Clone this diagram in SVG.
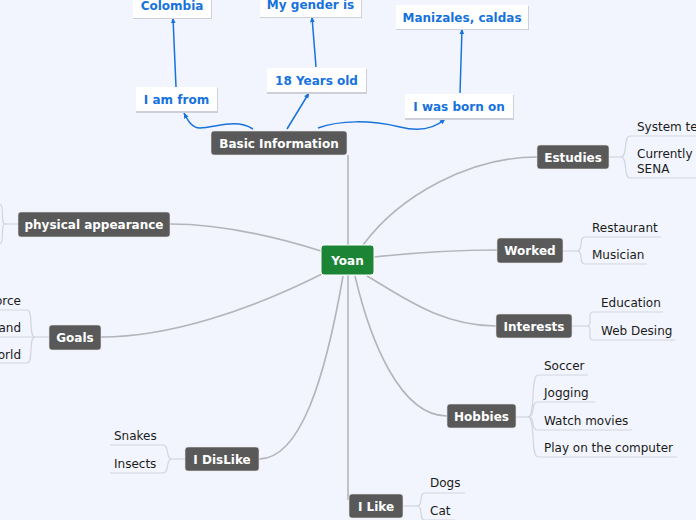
<svg xmlns="http://www.w3.org/2000/svg" width="696" height="520" viewBox="0 0 696 520">
<defs>
<style>
.bg{fill:#f2f5fd}
.main rect{fill:#595959;stroke:#e6e6e6;stroke-width:0.6}
.main text,.root text{font-family:"DejaVu Sans",Verdana,sans-serif;font-size:12px;font-weight:bold;fill:#ffffff;text-anchor:middle}
.root rect{fill:#1b8535;stroke:#ffffff;stroke-width:1}
.blue .sh{fill:#cdd0d8}
.blue .bx{fill:#ffffff}
.blue text{font-family:"DejaVu Sans",Verdana,sans-serif;font-size:12px;font-weight:bold;fill:#1672dc;text-anchor:middle}
.sub text{font-family:"DejaVu Sans",Verdana,sans-serif;font-size:12px;fill:#1a1a1a}
.sub path{fill:none;stroke:#d3d5df;stroke-width:1.2}
.conn path{fill:none;stroke:#b4b4ba;stroke-width:1.6}
.bconn path{fill:none;stroke:#1672dc;stroke-width:1.5;marker-end:url(#arr)}
</style>
<marker id="arr" viewBox="0 0 10 10" refX="9" refY="5" markerWidth="6" markerHeight="6" orient="auto" markerUnits="userSpaceOnUse">
<path d="M0,1 L10,5 L0,9 Z" fill="#1672dc"/>
</marker>
</defs>
<rect class="bg" x="0" y="0" width="696" height="520"/>

<g id="connectors">
<g class="conn">
<path d="M348,155 L348,245"/>
<path d="M348,275 L348,500"/>
<path d="M363,245 C400,195 470,157 537,157"/>
<path d="M374,257 C420,252 450,250 497,250"/>
<path d="M367,276 C400,295 440,326 496,326"/>
<path d="M355,276 C370,340 400,416 447,416"/>
<path d="M343,276 C325,380 300,459 259,459"/>
<path d="M322,274 C250,310 170,337 101,337"/>
<path d="M321,251 C270,235 220,224 170,224"/>
</g>
<g class="bconn">
<path d="M253,129 C235,118 215,128 200,128 C192,128 188,121 184,113"/>
<path d="M287,129 L309,93"/>
<path d="M318,128 C340,120 370,120 400,127 C420,132 435,128 445,119"/>
<path d="M176,87 L173,18"/>
<path d="M316,67 L312,17"/>
<path d="M460,93 L462,29"/>
</g>
</g>

<g id="n-yoan" class="root"><rect x="321" y="245" width="53" height="30" rx="3"/><text x="347.5" y="264.5">Yoan</text></g>

<g id="n-basic" class="main"><rect x="211" y="131" width="136" height="24" rx="3"/><text x="279" y="147.5">Basic Information</text></g>
<g id="n-estudies" class="main"><rect x="537" y="145" width="72" height="24" rx="3"/><text x="573" y="161.5">Estudies</text></g>
<g id="n-worked" class="main"><rect x="497" y="238" width="66" height="25" rx="3"/><text x="530" y="254.5">Worked</text></g>
<g id="n-interests" class="main"><rect x="496" y="314" width="76" height="24" rx="3"/><text x="534" y="330.5">Interests</text></g>
<g id="n-hobbies" class="main"><rect x="447" y="404" width="69" height="24" rx="3"/><text x="481.5" y="420.5">Hobbies</text></g>
<g id="n-ilike" class="main"><rect x="349" y="494" width="54" height="24" rx="3"/><text x="376" y="510.5">I Like</text></g>
<g id="n-idislike" class="main"><rect x="185" y="447" width="74" height="24" rx="3"/><text x="222" y="463.5">I DisLike</text></g>
<g id="n-goals" class="main"><rect x="49" y="325" width="52" height="25" rx="3"/><text x="75" y="341.5">Goals</text></g>
<g id="n-physical" class="main"><rect x="18" y="212" width="152" height="25" rx="3"/><text x="94" y="228.5">physical appearance</text></g>

<g id="n-iamfrom" class="blue"><rect class="sh" x="136" y="88" width="82" height="25"/><rect class="bx" x="136" y="87" width="81" height="24"/><text x="176.5" y="103.5">I am from</text></g>
<g id="n-colombia" class="blue"><rect class="sh" x="133" y="-5" width="79" height="24"/><rect class="bx" x="133" y="-6" width="78" height="24"/><text x="172" y="10">Colombia</text></g>
<g id="n-18years" class="blue"><rect class="sh" x="267" y="69" width="100" height="25"/><rect class="bx" x="267" y="68" width="99" height="24"/><text x="316.5" y="84.5">18 Years old</text></g>
<g id="n-gender" class="blue"><rect class="sh" x="260" y="-6" width="102" height="24"/><rect class="bx" x="260" y="-7" width="101" height="24"/><text x="310.5" y="9">My gender is</text></g>
<g id="n-bornon" class="blue"><rect class="sh" x="405" y="95" width="109" height="25"/><rect class="bx" x="405" y="94" width="108" height="24"/><text x="459" y="110.5">I was born on</text></g>
<g id="n-manizales" class="blue"><rect class="sh" x="396" y="6" width="133" height="24"/><rect class="bx" x="396" y="5" width="132" height="24"/><text x="462" y="21.5">Manizales, caldas</text></g>

<g id="n-estudies-sub" class="sub">
<path d="M609,157 L621,157"/>
<path d="M621,157 C628,157 623,136 630,136 L696,136"/>
<path d="M621,157 C628,157 623,178 630,178 L696,178"/>
<text x="637" y="131">System te</text>
<text x="637" y="158">Currently</text>
<text x="637" y="173">SENA</text>
</g>
<g id="n-worked-sub" class="sub">
<path d="M563,251 L577,251"/>
<path d="M577,251 C584,251 578,237 585,237 L661,237"/>
<path d="M577,251 C584,251 578,264 585,264 L647,264"/>
<text x="592" y="232">Restaurant</text>
<text x="592" y="259">Musician</text>
</g>
<g id="n-interests-sub" class="sub">
<path d="M572,326 L587,326"/>
<path d="M587,326 C594,326 586,312 593,312 L663,312"/>
<path d="M587,326 C594,326 586,340 593,340 L675,340"/>
<text x="601" y="307">Education</text>
<text x="601" y="335">Web Desing</text>
</g>
<g id="n-hobbies-sub" class="sub">
<path d="M516,417 L528,417"/>
<path d="M528,417 C536,417 530,375 538,375 L588,375"/>
<path d="M528,417 C536,417 530,402 538,402 L595,402"/>
<path d="M528,417 C536,417 530,430 538,430 L632,430"/>
<path d="M528,417 C536,417 530,457 538,457 L677,457"/>
<text x="544" y="370">Soccer</text>
<text x="544" y="397">Jogging</text>
<text x="544" y="425">Watch movies</text>
<text x="544" y="452">Play on the computer</text>
</g>
<g id="n-ilike-sub" class="sub">
<path d="M403,506 L417,506"/>
<path d="M417,506 C424,506 418,493 425,493 L465,493"/>
<path d="M417,506 C424,506 418,520 425,520 L455,520"/>
<text x="430" y="487">Dogs</text>
<text x="430" y="515">Cat</text>
</g>
<g id="n-idislike-sub" class="sub">
<path d="M185,459 L172,459"/>
<path d="M172,459 C165,459 170,445 163,445 L110,445"/>
<path d="M172,459 C165,459 170,473 163,473 L110,473"/>
<text x="114" y="440">Snakes</text>
<text x="114" y="468">Insects</text>
</g>
<g id="n-goals-sub" class="sub">
<path d="M49,337 L35,337"/>
<path d="M35,337 C28,337 34,310 27,310 L0,310"/>
<path d="M35,337 L0,337"/>
<path d="M35,337 C28,337 34,363 27,363 L0,363"/>
<text x="21" y="305" text-anchor="end">orce</text>
<text x="21" y="332" text-anchor="end">and</text>
<text x="21" y="359" text-anchor="end">orld</text>
</g>
<g id="n-physical-sub" class="sub">
<path d="M18,224 L5,224"/>
<path d="M5,224 C0,224 5,206 0,204"/>
<path d="M5,224 C0,224 5,242 0,244"/>
</g>
</svg>
